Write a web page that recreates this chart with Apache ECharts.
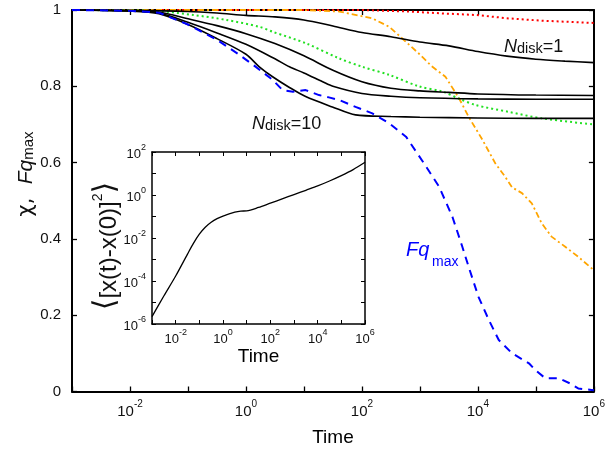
<!DOCTYPE html>
<html><head><meta charset="utf-8">
<script src="https://cdn.jsdelivr.net/npm/echarts@6/dist/echarts.min.js"></script>
<style>html,body{margin:0;padding:0;background:#fff}#c{width:608px;height:454px}</style>
</head><body><div id="c"></div>
<script>
const FONT = '"Liberation Sans", Arial, Helvetica, sans-serif';

// ---- main panel: chi(t) for several N_disk and Fq_max(t) ----
const ndisk1Time  = [1e-3, 1e-2, 1e-1, 0.316, 1, 3.16, 10, 31.6, 100, 316, 1000, 3160, 1e4, 3.16e4, 1e5, 3.16e5, 1e6];
const ndisk1Value = [1.0, 0.999, 0.996, 0.992, 0.986, 0.982, 0.974, 0.958, 0.941, 0.930, 0.916, 0.906, 0.891, 0.879, 0.871, 0.866, 0.862];

const ndiskBTime  = [1e-3, 1e-2, 3.16e-2, 0.1, 0.316, 1, 3.16, 10, 31.6, 100, 316, 1000, 3160, 1e4, 1e5, 1e6];
const ndiskBValue = [1.0, 0.998, 0.994, 0.977, 0.959, 0.938, 0.912, 0.880, 0.842, 0.812, 0.795, 0.788, 0.784, 0.780, 0.777, 0.776];

const ndiskCTime  = [1e-3, 1e-2, 3.16e-2, 0.1, 0.316, 1, 3.16, 5.62, 10, 21, 31.6, 100, 316, 1000, 1e4, 1e5, 1e6];
const ndiskCValue = [1.0, 0.998, 0.992, 0.968, 0.940, 0.910, 0.872, 0.851, 0.835, 0.812, 0.800, 0.781, 0.774, 0.770, 0.767, 0.766, 0.766];

const ndisk10Time  = [1e-3, 1e-2, 3.16e-2, 0.1, 0.316, 1, 1.7, 2.88, 5.62, 10.7, 30.9, 77.6, 316, 1000, 1e4, 1e5, 1e6];
const ndisk10Value = [1.0, 0.997, 0.990, 0.962, 0.925, 0.884, 0.851, 0.825, 0.797, 0.773, 0.746, 0.725, 0.721, 0.719, 0.717, 0.716, 0.716];

const fqTime  = [1e-3, 1e-2, 3.16e-2, 0.1, 0.316, 0.776, 1.48, 2.88, 4.27, 6.46, 10.7, 18.2, 26.9, 40.7, 77.6, 151, 295, 575, 1096, 2138, 3631, 5370, 6918, 10233, 15488, 22909, 38905, 75858, 97724, 144544, 245471, 389045, 537032, 912011, 1e6];
const fqValue = [1.0, 0.998, 0.993, 0.962, 0.922, 0.882, 0.851, 0.817, 0.790, 0.786, 0.790, 0.777, 0.771, 0.764, 0.746, 0.729, 0.703, 0.668, 0.605, 0.537, 0.458, 0.380, 0.327, 0.248, 0.187, 0.135, 0.100, 0.074, 0.056, 0.035, 0.035, 0.021, 0.008, 0.004, 0.003];

const orangeTime  = [1e-3, 10, 40.7, 151, 295, 490, 955, 1585, 2754, 4677, 6918, 11749, 19953, 29512, 38905, 57544, 85114, 125893, 186209, 316228, 537032, 1e6];
const orangeValue = [1.0, 1.0, 0.996, 0.978, 0.956, 0.926, 0.886, 0.853, 0.825, 0.770, 0.720, 0.662, 0.598, 0.563, 0.535, 0.520, 0.493, 0.441, 0.406, 0.380, 0.353, 0.318];

const greenTime  = [1e-3, 1e-2, 0.0324, 0.123, 0.457, 1.7, 2.88, 10.7, 40.7, 102, 295, 955, 2455, 4677, 9120, 33884, 125893, 1e6];
const greenValue = [1.0, 0.999, 0.997, 0.987, 0.974, 0.956, 0.943, 0.913, 0.873, 0.851, 0.830, 0.800, 0.786, 0.768, 0.751, 0.733, 0.716, 0.700];

const redTime  = [1e-3, 100, 646, 2455, 9120, 33884, 125893, 1e6];
const redValue = [1.0, 1.0, 0.996, 0.991, 0.987, 0.978, 0.972, 0.966];

// ---- inset: mean squared displacement ----
const msdTime  = [1e-3, 3.16e-3, 1e-2, 3.16e-2, 5.62e-2, 0.1, 0.178, 0.316, 0.562, 1, 3.16, 5.62, 10, 31.6, 100, 316, 1000, 3160, 1e4, 3.16e4, 1e5, 3.16e5, 1e6];
const msdValue = [2.2e-6, 2.0e-5, 1.7e-4, 1.78e-3, 5.62e-3, 1.51e-2, 3.16e-2, 5.37e-2, 7.94e-2, 0.105, 0.158, 0.178, 0.182, 0.263, 0.417, 0.661, 1.05, 1.66, 2.63, 4.47, 7.94, 15.1, 33.1];

// tick settings
const mainTopTickTimes = [1e-2, 1, 1e2, 1e4];

function powLabel(v) {
  const e = Math.round(Math.log10(v));
  if (e % 2 !== 0) return '';
  return '{b|10}{s|' + e + '}';
}
function pair(t, v) { return t.map((x, i) => [x, v[i]]); }

const mainRich = {
  b: {fontSize: 15, fontFamily: FONT, color: '#111', lineHeight: 20, verticalAlign: 'bottom'},
  s: {fontSize: 10, fontFamily: FONT, color: '#111', lineHeight: 8, verticalAlign: 'top'}
};
const insetRich = {
  b: {fontSize: 13, fontFamily: FONT, color: '#111', lineHeight: 18, verticalAlign: 'bottom'},
  s: {fontSize: 9, fontFamily: FONT, color: '#111', lineHeight: 7, verticalAlign: 'top'}
};

const AX = {color: '#000', width: 2};
const AXI = {color: '#000', width: 1.5};

const option = {
  animation: false,
  backgroundColor: '#fff',
  grid: [
    {left: 72, top: 10, right: 12.5, bottom: 62.5, show: false},
    {left: 152, top: 152, right: 243, bottom: 130, show: true, backgroundColor: '#fff', borderWidth: 0}
  ],
  xAxis: [
    {type: 'log', logBase: 10, gridIndex: 0, position: 'bottom', min: 1e-3, max: 1e6, interval: 1,
     axisLine: {onZero: false, lineStyle: AX},
     axisTick: {inside: true, length: 5, lineStyle: {color: '#000', width: 1.3}},
     axisLabel: {margin: 8, formatter: powLabel, rich: mainRich},
     splitLine: {show: false},
     name: 'Time', nameLocation: 'middle', nameGap: 37,
     nameTextStyle: {fontSize: 19, fontFamily: FONT, color: '#000'}},
    {type: 'log', logBase: 10, gridIndex: 0, position: 'top', min: 1e-3, max: 1e6, interval: 1,
     axisLine: {onZero: false, lineStyle: AX},
     axisTick: {inside: true, length: 5, lineStyle: {color: '#000', width: 1.3}, customValues: mainTopTickTimes},
     axisLabel: {show: false}, splitLine: {show: false}},
    {type: 'log', logBase: 10, gridIndex: 1, position: 'bottom', min: 1e-3, max: 1e6, interval: 1,
     axisLine: {onZero: false, lineStyle: AXI},
     axisTick: {inside: true, length: 4, lineStyle: {color: '#000', width: 1}},
     axisLabel: {margin: 4, formatter: powLabel, rich: insetRich},
     splitLine: {show: false},
     name: 'Time', nameLocation: 'middle', nameGap: 21,
     nameTextStyle: {fontSize: 19, fontFamily: FONT, color: '#000'}},
    {type: 'log', logBase: 10, gridIndex: 1, position: 'top', min: 1e-3, max: 1e6, interval: 1,
     axisLine: {onZero: false, lineStyle: AXI},
     axisTick: {inside: true, length: 4, lineStyle: {color: '#000', width: 1}},
     axisLabel: {show: false}, splitLine: {show: false}}
  ],
  yAxis: [
    {type: 'value', gridIndex: 0, position: 'left', min: 0, max: 1, interval: 0.2,
     axisLine: {show: true, onZero: false, lineStyle: AX},
     axisTick: {show: true, inside: true, length: 5, lineStyle: {color: '#000', width: 1.3}},
     axisLabel: {margin: 11, fontSize: 15, fontFamily: FONT, color: '#111'},
     splitLine: {show: false}},
    {type: 'value', gridIndex: 0, position: 'right', min: 0, max: 1, interval: 0.2,
     axisLine: {show: true, onZero: false, lineStyle: AX},
     axisTick: {show: true, inside: true, length: 5, lineStyle: {color: '#000', width: 1.3}},
     axisLabel: {show: false}, splitLine: {show: false}},
    {type: 'log', logBase: 10, gridIndex: 1, position: 'left', min: 1e-6, max: 100, interval: 1,
     axisLine: {show: true, onZero: false, lineStyle: AXI},
     axisTick: {show: true, inside: true, length: 4, lineStyle: {color: '#000', width: 1}},
     axisLabel: {margin: 6, formatter: powLabel, rich: insetRich},
     splitLine: {show: false}},
    {type: 'log', logBase: 10, gridIndex: 1, position: 'right', min: 1e-6, max: 100, interval: 1,
     axisLine: {show: true, onZero: false, lineStyle: AXI},
     axisTick: {show: true, inside: true, length: 4, lineStyle: {color: '#000', width: 1}},
     axisLabel: {show: false}, splitLine: {show: false}}
  ],
  series: [
    {name: 'red', type: 'line', xAxisIndex: 0, yAxisIndex: 0, data: pair(redTime, redValue), showSymbol: false, symbol: 'none',
     lineStyle: {color: '#ff0000', width: 2, type: [2, 3]}},
    {name: 'orange', type: 'line', xAxisIndex: 0, yAxisIndex: 0, data: pair(orangeTime, orangeValue), showSymbol: false, symbol: 'none',
     lineStyle: {color: '#ffa500', width: 1.8, type: [6, 3, 2, 3]}},
    {name: 'green', type: 'line', xAxisIndex: 0, yAxisIndex: 0, data: pair(greenTime, greenValue), showSymbol: false, symbol: 'none', smooth: 0.3,
     lineStyle: {color: '#22e022', width: 2, type: [2, 3]}},
    {name: 'Ndisk=1', type: 'line', xAxisIndex: 0, yAxisIndex: 0, data: pair(ndisk1Time, ndisk1Value), showSymbol: false, symbol: 'none', smooth: 0.3,
     lineStyle: {color: '#000', width: 1.6}},
    {name: 'NdiskB', type: 'line', xAxisIndex: 0, yAxisIndex: 0, data: pair(ndiskBTime, ndiskBValue), showSymbol: false, symbol: 'none', smooth: 0.3,
     lineStyle: {color: '#000', width: 1.6}},
    {name: 'NdiskC', type: 'line', xAxisIndex: 0, yAxisIndex: 0, data: pair(ndiskCTime, ndiskCValue), showSymbol: false, symbol: 'none', smooth: 0.3,
     lineStyle: {color: '#000', width: 1.6}},
    {name: 'Ndisk=10', type: 'line', xAxisIndex: 0, yAxisIndex: 0, data: pair(ndisk10Time, ndisk10Value), showSymbol: false, symbol: 'none', smooth: 0.3,
     lineStyle: {color: '#000', width: 1.6}},
    {name: 'Fq_max', type: 'line', xAxisIndex: 0, yAxisIndex: 0, data: pair(fqTime, fqValue), showSymbol: false, symbol: 'none',
     lineStyle: {color: '#0000ff', width: 2, type: [8, 6]}},
    {name: 'MSD', type: 'line', xAxisIndex: 2, yAxisIndex: 2, data: pair(msdTime, msdValue), showSymbol: false, symbol: 'none', smooth: 0.3,
     lineStyle: {color: '#000', width: 1.3}}
  ],
  graphic: [
    {type: 'text', x: 26, y: 174, rotation: Math.PI / 2,
     style: {text: '{c|χ,  }{f|Fq}{m|max}', align: 'center', verticalAlign: 'middle',
       rich: {
         c: {fontSize: 21, fontFamily: '"DejaVu Sans", sans-serif', fill: '#111', lineHeight: 20, verticalAlign: 'top'},
         f: {fontSize: 21, fontFamily: FONT, fontStyle: 'italic', fill: '#111', lineHeight: 20, verticalAlign: 'top'},
         m: {fontSize: 15, fontFamily: FONT, fill: '#111', lineHeight: 15, padding: [10, 0, 0, 0], verticalAlign: 'bottom'}
       }}},
    {type: 'text', x: 106, y: 246, rotation: Math.PI / 2,
     style: {text: '{br|⟨}{a|[x(t)-x(0)]}{s|2}{br|⟩}', align: 'center', verticalAlign: 'middle',
       rich: {
         br: {fontSize: 30, fontFamily: '"DejaVu Sans", sans-serif', fill: '#111', lineHeight: 30, verticalAlign: 'middle'},
         a: {fontSize: 24, fontFamily: FONT, fill: '#111', lineHeight: 27, verticalAlign: 'bottom'},
         s: {fontSize: 14, fontFamily: FONT, fill: '#111', lineHeight: 12, verticalAlign: 'top'}
       }}},
    {type: 'text', x: 504, y: 47, style: {text: '{n|N}{d|disk}{e|=1}', align: 'left', verticalAlign: 'middle',
       rich: {
         n: {fontSize: 18, fontFamily: FONT, fontStyle: 'italic', fill: '#111', lineHeight: 18, verticalAlign: 'bottom'},
         d: {fontSize: 14.5, fontFamily: FONT, fill: '#111', lineHeight: 14.5, verticalAlign: 'bottom'},
         e: {fontSize: 18, fontFamily: FONT, fill: '#111', lineHeight: 18, verticalAlign: 'bottom'}
       }}},
    {type: 'text', x: 252, y: 124, style: {text: '{n|N}{d|disk}{e|=10}', align: 'left', verticalAlign: 'middle',
       rich: {
         n: {fontSize: 18, fontFamily: FONT, fontStyle: 'italic', fill: '#111', lineHeight: 18, verticalAlign: 'bottom'},
         d: {fontSize: 14.5, fontFamily: FONT, fill: '#111', lineHeight: 14.5, verticalAlign: 'bottom'},
         e: {fontSize: 18, fontFamily: FONT, fill: '#111', lineHeight: 18, verticalAlign: 'bottom'}
       }}},
    {type: 'text', x: 406, y: 250, style: {text: 'Fq', fontSize: 20, fontStyle: 'italic', fontFamily: FONT, fill: '#0000ff', align: 'left', verticalAlign: 'middle'}},
    {type: 'text', x: 432, y: 262.5, style: {text: 'max', fontSize: 14, fontFamily: FONT, fill: '#0000ff', align: 'left', verticalAlign: 'middle'}}
  ]
};

const chart = echarts.init(document.getElementById('c'), null, {renderer: 'canvas'});
chart.setOption(option);
</script>
</body></html>
